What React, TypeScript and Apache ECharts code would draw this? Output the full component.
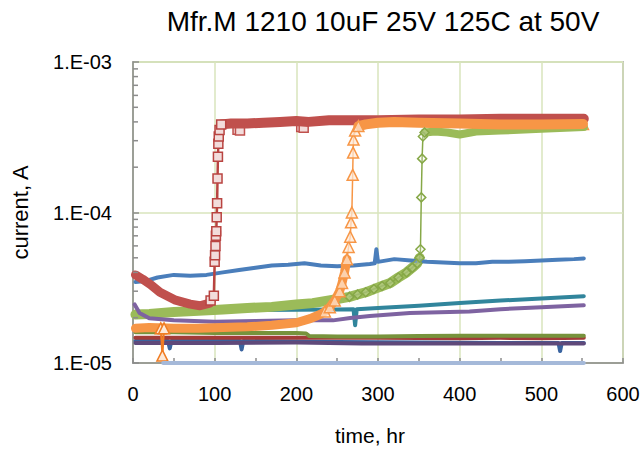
import React, { useEffect, useRef } from "react";
import * as echarts from "echarts";

// ---- data (time in hours, current in A) ----
const blueT = [3, 15, 30, 50, 70, 90, 110, 130, 150, 170, 190, 210, 230, 250, 270, 290, 296, 298, 300, 320, 340, 360, 380, 400, 420, 440, 460, 480, 500, 520, 540, 552];
const blueV = [3.45e-5, 3.5e-5, 3.7e-5, 3.85e-5, 3.8e-5, 3.85e-5, 4.0e-5, 4.15e-5, 4.3e-5, 4.45e-5, 4.5e-5, 4.6e-5, 4.45e-5, 4.4e-5, 4.45e-5, 4.55e-5, 4.6e-5, 5.7e-5, 4.7e-5, 4.9e-5, 4.8e-5, 4.7e-5, 4.65e-5, 4.6e-5, 4.6e-5, 4.7e-5, 4.7e-5, 4.75e-5, 4.8e-5, 4.85e-5, 4.9e-5, 4.95e-5];

const tealT = [3, 50, 100, 150, 200, 250, 270, 272, 274, 300, 350, 400, 450, 500, 552];
const tealV = [2.15e-5, 2.18e-5, 2.22e-5, 2.25e-5, 2.26e-5, 2.27e-5, 2.28e-5, 1.78e-5, 2.28e-5, 2.32e-5, 2.4e-5, 2.5e-5, 2.6e-5, 2.68e-5, 2.78e-5];

const purpleT = [2, 8, 20, 50, 100, 150, 200, 245, 266, 290, 339, 412, 450, 500, 552];
const purpleV = [2.45e-5, 2.15e-5, 1.98e-5, 1.92e-5, 1.88e-5, 1.9e-5, 1.92e-5, 1.92e-5, 1.99e-5, 2.05e-5, 2.15e-5, 2.2e-5, 2.28e-5, 2.35e-5, 2.42e-5];

const oliveT = [3, 50, 100, 150, 200, 212, 216, 250, 300, 350, 400, 450, 500, 552];
const oliveV = [1.6e-5, 1.6e-5, 1.58e-5, 1.58e-5, 1.58e-5, 1.57e-5, 1.51e-5, 1.5e-5, 1.5e-5, 1.51e-5, 1.52e-5, 1.52e-5, 1.52e-5, 1.52e-5];

const darkRedT = [3, 100, 200, 300, 400, 450, 500, 552];
const darkRedV = [1.47e-5, 1.47e-5, 1.47e-5, 1.47e-5, 1.46e-5, 1.47e-5, 1.46e-5, 1.47e-5];

const darkPurpleT = [3, 100, 200, 280, 350, 450, 552];
const darkPurpleV = [1.36e-5, 1.36e-5, 1.37e-5, 1.35e-5, 1.35e-5, 1.35e-5, 1.35e-5];

const navyT = [3, 43, 45, 47, 131, 133, 135, 250, 350, 450, 521, 523, 525, 552];
const navyV = [1.4e-5, 1.4e-5, 1.25e-5, 1.4e-5, 1.4e-5, 1.23e-5, 1.4e-5, 1.38e-5, 1.37e-5, 1.36e-5, 1.36e-5, 1.2e-5, 1.36e-5, 1.36e-5];

const lightBlueT = [37, 552];
const lightBlueV = [1e-5, 1e-5];

const redPreT = [3, 12, 21, 33, 51, 70, 82, 94, 99];
const redPreV = [3.85e-5, 3.6e-5, 3.33e-5, 2.95e-5, 2.63e-5, 2.46e-5, 2.4e-5, 2.5e-5, 2.8e-5];
const redJumpT = [95, 99, 100, 100.5, 101, 101.5, 102, 102.5, 103, 103.5, 104, 104.5, 105, 106, 108];
const redJumpV = [2.6e-5, 2.8e-5, 4.7e-5, 5.2e-5, 6.0e-5, 7.0e-5, 7.5e-5, 9.3e-5, 1.15e-4, 1.68e-4, 2.35e-4, 2.86e-4, 3.2e-4, 3.54e-4, 3.85e-4];
const redDipT = [128, 131, 206, 209];
const redDipV = [3.55e-4, 3.5e-4, 3.7e-4, 3.65e-4];
const redPostT = [108, 120, 140, 160, 180, 200, 215, 240, 270, 300, 350, 400, 450, 500, 552];
const redPostV = [3.85e-4, 3.9e-4, 3.9e-4, 3.95e-4, 4.0e-4, 4.05e-4, 4.0e-4, 4.1e-4, 4.1e-4, 4.1e-4, 4.15e-4, 4.15e-4, 4.2e-4, 4.2e-4, 4.2e-4];

const greenPreT = [3, 20, 50, 80, 110, 140, 170, 200, 220, 240, 265, 275, 285, 295, 305, 315, 325, 335, 342, 348, 351];
const greenPreV = [2.1e-5, 2.12e-5, 2.18e-5, 2.22e-5, 2.27e-5, 2.32e-5, 2.36e-5, 2.45e-5, 2.5e-5, 2.6e-5, 2.75e-5, 2.85e-5, 2.95e-5, 3.1e-5, 3.25e-5, 3.4e-5, 3.7e-5, 4.0e-5, 4.3e-5, 4.6e-5, 5.0e-5];
const greenJumpT = [265, 275, 285, 295, 305, 315, 325, 335, 342, 348, 351, 352, 353, 354, 355, 357];
const greenJumpV = [2.75e-5, 2.85e-5, 2.95e-5, 3.1e-5, 3.25e-5, 3.4e-5, 3.7e-5, 4.0e-5, 4.3e-5, 4.6e-5, 5.0e-5, 5.7e-5, 1.26e-4, 2.28e-4, 3.2e-4, 3.4e-4];
const greenPostT = [357, 370, 385, 400, 420, 450, 500, 552];
const greenPostV = [3.4e-4, 3.45e-4, 3.4e-4, 3.3e-4, 3.45e-4, 3.5e-4, 3.6e-4, 3.7e-4];

const orangePreT = [3, 20, 50, 80, 110, 140, 170, 200, 217, 229, 235, 241, 247, 253, 256, 259, 262];
const orangePreV = [1.7e-5, 1.72e-5, 1.7e-5, 1.7e-5, 1.72e-5, 1.74e-5, 1.78e-5, 1.85e-5, 1.97e-5, 2.1e-5, 2.2e-5, 2.35e-5, 2.6e-5, 3.0e-5, 3.4e-5, 4.0e-5, 4.9e-5];
const orangeSpikeT = [34, 36, 38];
const orangeSpikeV = [1.7e-5, 1.12e-5, 1.7e-5];
const orangeJumpT = [235, 241, 247, 253, 256, 259, 262, 264, 266, 267, 268, 269, 269.5, 270, 272, 276];
const orangeJumpV = [2.2e-5, 2.35e-5, 2.6e-5, 3.0e-5, 3.4e-5, 4.0e-5, 4.9e-5, 5.9e-5, 6.9e-5, 8.6e-5, 1.0e-4, 1.78e-4, 2.5e-4, 3.05e-4, 3.5e-4, 3.75e-4];
const orangeEndT = [551];
const orangeEndV = [3.88e-4];
const orangePostT = [276, 285, 300, 320, 350, 400, 450, 500, 551];
const orangePostV = [3.75e-4, 3.85e-4, 3.95e-4, 4.0e-4, 3.95e-4, 3.9e-4, 3.85e-4, 3.85e-4, 3.88e-4];

const minorTickValues = [2e-5, 3e-5, 4e-5, 5e-5, 6e-5, 7e-5, 8e-5, 9e-5, 2e-4, 3e-4, 4e-4, 5e-4, 6e-4, 7e-4, 8e-4, 9e-4];

const FONT = "'Liberation Sans', Arial, sans-serif";

function pairs(t: number[], v: number[]) {
  return t.map((x, i) => [x, v[i]]);
}

function lineSeries(name: string, t: number[], v: number[], color: string, width: number, extra: any = {}) {
  return {
    name,
    type: "line",
    data: pairs(t, v),
    showSymbol: false,
    symbol: "none",
    lineStyle: { color, width, cap: "round", join: "round" },
    itemStyle: { color },
    emphasis: { disabled: true },
    ...extra,
  };
}

function markedSeries(name: string, t: number[], v: number[], color: string, fill: string, symbol: string, size: number, lineW: number) {
  return {
    name,
    type: "line",
    data: pairs(t, v),
    showSymbol: true,
    showAllSymbol: true,
    symbol,
    symbolSize: size,
    lineStyle: { color, width: lineW },
    itemStyle: { color: fill, borderColor: color, borderWidth: 1.5 },
    emphasis: { disabled: true },
  };
}

function markerOnly(name: string, t: number[], v: number[], color: string, fill: string, symbol: string, size: number) {
  return {
    name,
    type: "scatter",
    data: pairs(t, v),
    symbol,
    symbolSize: size,
    itemStyle: { color: fill, borderColor: color, borderWidth: 1.5, opacity: 1 },
    emphasis: { disabled: true },
  };
}

function fmtLog(v: number) {
  const e = Math.round(Math.log10(v));
  return "1.E" + (e < 0 ? "-" : "+") + String(Math.abs(e)).padStart(2, "0");
}

export default function App() {
  const ref = useRef<HTMLDivElement>(null);
  useEffect(() => {
    if (!ref.current) return;
    const chart = echarts.init(ref.current, undefined, { renderer: "svg" });
    const option: any = {
      animation: false,
      backgroundColor: "#ffffff",
      title: {
        text: "Mfr.M 1210 10uF 25V 125C at 50V",
        left: 378,
        top: 2,
        textAlign: "center",
        textStyle: { fontFamily: FONT, fontSize: 28, fontWeight: "normal", color: "#000" },
      },
      grid: {
        left: 133,
        right: 21,
        top: 62,
        bottom: 87,
        show: true,
        borderColor: "#8c8c8c",
        borderWidth: 1.5,
        backgroundColor: "transparent",
      },
      xAxis: {
        type: "value",
        min: 0,
        max: 600,
        interval: 100,
        name: "time, hr",
        nameLocation: "middle",
        nameGap: 62,
        nameTextStyle: { fontFamily: FONT, fontSize: 21, color: "#000", padding: [0, 16, 0, 0] },
        axisLine: { lineStyle: { color: "#8c8c8c", width: 1.5 } },
        axisTick: { show: true, inside: true, length: 5, lineStyle: { color: "#8c8c8c", width: 1.5 } },
        minorTick: { show: true, splitNumber: 2, length: 5, lineStyle: { color: "#8c8c8c", width: 1.5 } },
        axisLabel: { fontFamily: FONT, fontSize: 20, color: "#000", margin: 21 },
        splitLine: { show: true, lineStyle: { color: "#D9E5BC", width: 1.5 } },
      },
      yAxis: {
        type: "log",
        logBase: 10,
        min: 1e-5,
        max: 1e-3,
        name: "current, A",
        nameLocation: "middle",
        nameGap: 102,
        nameTextStyle: { fontFamily: FONT, fontSize: 22, color: "#000" },
        axisLine: { show: true, lineStyle: { color: "#8c8c8c", width: 1.5 } },
        axisTick: { show: true, inside: true, length: 6, lineStyle: { color: "#8c8c8c", width: 1.5 } },
        axisLabel: { fontFamily: FONT, fontSize: 20, color: "#000", margin: 21, formatter: fmtLog },
        splitLine: { show: true, lineStyle: { color: "#D9E5BC", width: 1.5 } },
      },
      series: [
        {
          name: "minorTicks",
          type: "custom",
          silent: true,
          z: 5,
          data: minorTickValues.map((v) => [0, v]),
          renderItem: (params: any, api: any) => {
            const p = api.coord([0, api.value(1)]);
            return {
              type: "line",
              shape: { x1: p[0], y1: p[1], x2: p[0] + 5, y2: p[1] },
              style: { stroke: "#8c8c8c", lineWidth: 1.5 },
            };
          },
        },
        lineSeries("lightBlue", lightBlueT, lightBlueV, "#A5B9D9", 4, { clip: false, z: 6 }),
        lineSeries("navy", navyT, navyV, "#3A64A0", 4),
        lineSeries("darkPurple", darkPurpleT, darkPurpleV, "#5F497A", 4),
        lineSeries("darkRed", darkRedT, darkRedV, "#A33B38", 4),
        lineSeries("olive", oliveT, oliveV, "#77933C", 4),
        lineSeries("teal", tealT, tealV, "#31859C", 4),
        lineSeries("greenPre", greenPreT, greenPreV, "#9BBB59", 10),
        lineSeries("purple", purpleT, purpleV, "#7E63A1", 4),
        lineSeries("blue", blueT, blueV, "#4A7EBB", 4),
        lineSeries("redPre", redPreT, redPreV, "#C0504D", 9),
        lineSeries("greenPost", greenPostT, greenPostV, "#9BBB59", 8),
        markedSeries("greenJump", greenJumpT, greenJumpV, "#86A847", "rgba(235,241,222,0.25)", "diamond", 9, 1.5),
        lineSeries("redPost", redPostT, redPostV, "#C0504D", 10),
        markerOnly("redDips", redDipT, redDipV, "#C0504D", "#F2DCDB", "rect", 9),
        markedSeries("redJump", redJumpT, redJumpV, "#B94441", "#F2DCDB", "rect", 9, 2.5),
        lineSeries("orangePre", orangePreT, orangePreV, "#F79646", 9),
        markedSeries("orangeSpike", orangeSpikeT, orangeSpikeV, "#F07D24", "#FDE9D9", "triangle", 11, 2),
        lineSeries("orangePost", orangePostT, orangePostV, "#F79646", 10),
        markedSeries("orangeJump", orangeJumpT, orangeJumpV, "#F79646", "rgba(253,233,217,0.7)", "triangle", 11, 1.5),
        markerOnly("orangeEnd", orangeEndT, orangeEndV, "#F79646", "#FDE9D9", "triangle", 11),
      ],
    };
    chart.setOption(option);
    return () => chart.dispose();
  }, []);
  return <div ref={ref} style={{ width: 644, height: 451, position: "absolute", left: 0, top: 0 }} />;
}
